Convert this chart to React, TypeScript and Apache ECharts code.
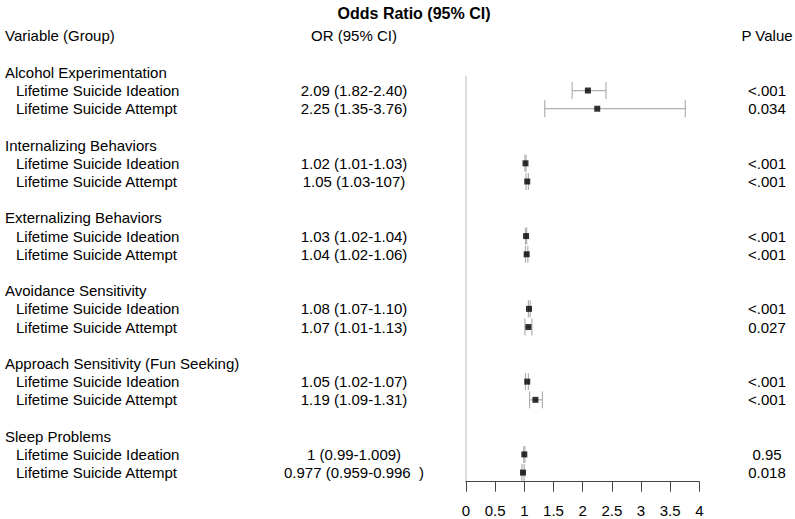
import React, { useEffect, useRef } from "react";
import * as echarts from "echarts";

const groups = [
  "Alcohol Experimentation",
  "Internalizing Behaviors",
  "Externalizing Behaviors",
  "Avoidance Sensitivity",
  "Approach Sensitivity (Fun Seeking)",
  "Sleep Problems",
];
const outcomes = ["Lifetime Suicide Ideation", "Lifetime Suicide Attempt"];

// per group: [ideation, attempt]
const orValues = [
  [2.09, 2.25],
  [1.02, 1.05],
  [1.03, 1.04],
  [1.08, 1.07],
  [1.05, 1.19],
  [1, 0.977],
];
const ciLow = [
  [1.82, 1.35],
  [1.01, 1.03],
  [1.02, 1.02],
  [1.07, 1.01],
  [1.02, 1.09],
  [0.99, 0.959],
];
const ciHigh = [
  [2.4, 3.76],
  [1.03, 1.07],
  [1.04, 1.06],
  [1.1, 1.13],
  [1.07, 1.31],
  [1.009, 0.996],
];
const orLabels = [
  ["2.09 (1.82-2.40)", "2.25 (1.35-3.76)"],
  ["1.02 (1.01-1.03)", "1.05 (1.03-107)"],
  ["1.03 (1.02-1.04)", "1.04 (1.02-1.06)"],
  ["1.08 (1.07-1.10)", "1.07 (1.01-1.13)"],
  ["1.05 (1.02-1.07)", "1.19 (1.09-1.31)"],
  ["1 (0.99-1.009)", "0.977 (0.959-0.996  )"],
];
const pValues = [
  ["<.001", "0.034"],
  ["<.001", "<.001"],
  ["<.001", "<.001"],
  ["<.001", "0.027"],
  ["<.001", "<.001"],
  ["0.95", "0.018"],
];
const xTicks = { min: 0, max: 4, interval: 0.5 };

const FONT = "'Liberation Sans', Arial, Helvetica, sans-serif";

type TextRow = { r: number; name: string; indent: boolean; or: string; p: string };

function buildRows(): TextRow[] {
  const rows: TextRow[] = [
    { r: -2, name: "Variable (Group)", indent: false, or: "OR (95% CI)", p: "P Value" },
  ];
  groups.forEach((g, gi) => {
    rows.push({ r: gi * 4, name: g, indent: false, or: "", p: "" });
    outcomes.forEach((o, oi) => {
      rows.push({
        r: gi * 4 + 1 + oi,
        name: o,
        indent: true,
        or: orLabels[gi][oi],
        p: pValues[gi][oi],
      });
    });
  });
  return rows;
}

export default function App() {
  const ref = useRef<HTMLDivElement>(null);
  useEffect(() => {
    if (!ref.current) return;
    const chart = echarts.init(ref.current, undefined, { renderer: "svg" });
    const rows = buildRows();
    const points: number[][] = [];
    const bars: number[][] = [];
    groups.forEach((_, gi) => {
      outcomes.forEach((_o, oi) => {
        const r = gi * 4 + 1 + oi;
        points.push([orValues[gi][oi], r]);
        bars.push([ciLow[gi][oi], ciHigh[gi][oi], r]);
      });
    });

    chart.setOption({
      animation: false,
      title: {
        text: "Odds Ratio (95% CI)",
        left: 409,
        textAlign: "center",
        top: 0,
        textStyle: { fontFamily: FONT, fontSize: 16, fontWeight: "bold", color: "#000" },
      },
      grid: { left: 466, right: 95.7, top: 76.7, bottom: 37.3, containLabel: false },
      xAxis: {
        type: "value",
        min: xTicks.min,
        max: xTicks.max,
        interval: xTicks.interval,
        axisLine: { onZero: false, lineStyle: { color: "#444", width: 1 } },
        axisTick: { show: true, length: 10, lineStyle: { color: "#444" } },
        axisLabel: {
          fontFamily: FONT,
          fontSize: 15,
          color: "#000",
          margin: 21,
          formatter: (v: number) => String(v),
        },
        splitLine: { show: false },
      },
      yAxis: {
        type: "value",
        inverse: true,
        min: 0.24,
        max: 22.5,
        axisLine: { show: true, onZero: false, lineStyle: { color: "#cfcfcf", width: 1.5 } },
        axisTick: { show: false },
        axisLabel: { show: false },
        splitLine: { show: false },
      },
      series: [
        {
          type: "custom",
          silent: true,
          clip: false,
          data: rows.map((row) => [0, row.r]),
          renderItem: (params: any, api: any) => {
            const row = rows[params.dataIndex];
            const y = api.coord([0, api.value(1)])[1];
            const style = { fontFamily: FONT, fontSize: 15, fill: "#000", textVerticalAlign: "middle" };
            return {
              type: "group",
              children: [
                {
                  type: "text",
                  style: { ...style, text: row.name, x: row.indent ? 16 : 5, y, textAlign: "left" },
                },
                {
                  type: "text",
                  style: { ...style, text: row.or, x: 354, y, textAlign: "center" },
                },
                {
                  type: "text",
                  style: { ...style, text: row.p, x: 767, y, textAlign: "center" },
                },
              ],
            };
          },
        },
        {
          type: "custom",
          silent: true,
          clip: false,
          data: bars,
          renderItem: (_params: any, api: any) => {
            const a = api.coord([api.value(0), api.value(2)]);
            const b = api.coord([api.value(1), api.value(2)]);
            const h = 8.5;
            const ls = { stroke: "#b0b0b0", lineWidth: 1.2 };
            return {
              type: "group",
              children: [
                { type: "line", shape: { x1: a[0], y1: a[1], x2: b[0], y2: b[1] }, style: ls },
                { type: "line", shape: { x1: a[0], y1: a[1] - h, x2: a[0], y2: a[1] + h }, style: ls },
                { type: "line", shape: { x1: b[0], y1: b[1] - h, x2: b[0], y2: b[1] + h }, style: ls },
              ],
            };
          },
        },
        {
          type: "scatter",
          silent: true,
          data: points,
          symbol: "rect",
          symbolSize: 6,
          itemStyle: { color: "#000" },
        },
      ],
    });
    return () => chart.dispose();
  }, []);
  return (
    <div
      ref={ref}
      style={{ position: "fixed", left: 0, top: 0, width: 795, height: 519, background: "#fff" }}
    />
  );
}
